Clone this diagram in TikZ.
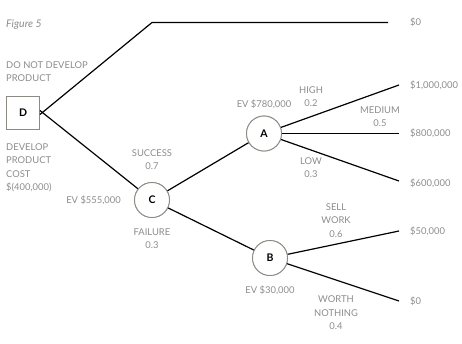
\documentclass[tikz,border=0pt]{standalone}
\usepackage{fontspec}
\setmainfont{Lato}
\begin{document}
\begin{tikzpicture}[x=1pt,y=-1pt,
  lbl/.style={text=txtgray,font=\fontsize{9.4}{13.5}\selectfont,inner sep=0pt,align=center},
  lblL/.style={lbl,anchor=west,align=left},
  chance/.style={circle,draw=boxgray,line width=0.9pt,minimum size=35pt,inner sep=0pt,font=\bfseries\fontsize{10.5}{12}\selectfont,fill=white},
  decision/.style={rectangle,draw=boxgray,line width=0.9pt,minimum size=33pt,inner sep=0pt,font=\bfseries\fontsize{10.5}{12}\selectfont,fill=white},
  branch/.style={line width=1.2pt,black}]
\definecolor{txtgray}{RGB}{140,140,140}
\definecolor{boxgray}{RGB}{140,138,130}
\useasboundingbox (0,0) rectangle (462,343);
% nodes
\node[decision] (D) at (23,112.5) {D};
\node[chance] (C) at (152,200) {C};
\node[chance] (A) at (264,133.5) {A};
\node[chance] (B) at (270,258) {B};
\coordinate (Dtop) at (152,22.5);
\coordinate (E0) at (388,22.5);
\coordinate (EA1) at (399,85);
\coordinate (EA2) at (399,133.5);
\coordinate (EA3) at (399,181);
\coordinate (EB1) at (399,231);
\coordinate (EB2) at (399,301);
\coordinate (Dout1) at ([yshift=-2pt]D.east);
\coordinate (Dout2) at ([yshift=2pt]D.east);
% branches
\draw[branch] (Dout1) -- (Dtop) -- (E0);
\draw[branch] (Dout2) -- (C);
\draw[branch] (C) -- (A);
\draw[branch] (C) -- (B);
\draw[branch] (A) -- (EA1);
\draw[branch] (A) -- (EA2);
\draw[branch] (A) -- (EA3);
\draw[branch] (B) -- (EB1);
\draw[branch] (B) -- (EB2);
\node[chance] at (C) {C};
\node[chance] at (A) {A};
\node[chance] at (B) {B};
% texts
\node[lblL,font=\itshape\fontsize{10.5}{12}\selectfont] (fig) at (6,25) {Figure 5};
\node[lblL,anchor=north west] (dnd) at (6,61) {DO NOT DEVELOP\\PRODUCT};
\node[lblL,anchor=north west] (dev) at (6,143) {DEVELOP\\PRODUCT\\COST\\\$(400,000)};
\node[lbl,anchor=east] (evc) at (121,200.5) {EV \$555,000};
\node[lbl] (succ) at (152,159.5) {SUCCESS\\0.7};
\node[lbl] (fail) at (152,238.5) {FAILURE\\0.3};
\node[lbl] (eva) at (264,104) {EV \$780,000};
\node[lbl] (high) at (311,96.5) {HIGH\\0.2};
\node[lbl] (med) at (380,116.5) {MEDIUM\\0.5};
\node[lbl] (low) at (311,167.5) {LOW\\0.3};
\node[lbl] (sell) at (336,220.5) {SELL\\WORK\\0.6};
\node[lbl] (evb) at (270,290) {EV \$30,000};
\node[lbl] (worth) at (336,313) {WORTH\\NOTHING\\0.4};
\node[lblL] (v0) at (410,22) {\$0};
\node[lblL] (v1) at (410,85) {\$1,000,000};
\node[lblL] (v2) at (410,133) {\$800,000};
\node[lblL] (v3) at (410,183) {\$600,000};
\node[lblL] (v4) at (410,231) {\$50,000};
\node[lblL] (v5) at (410,301) {\$0};
\end{tikzpicture}
\end{document}
